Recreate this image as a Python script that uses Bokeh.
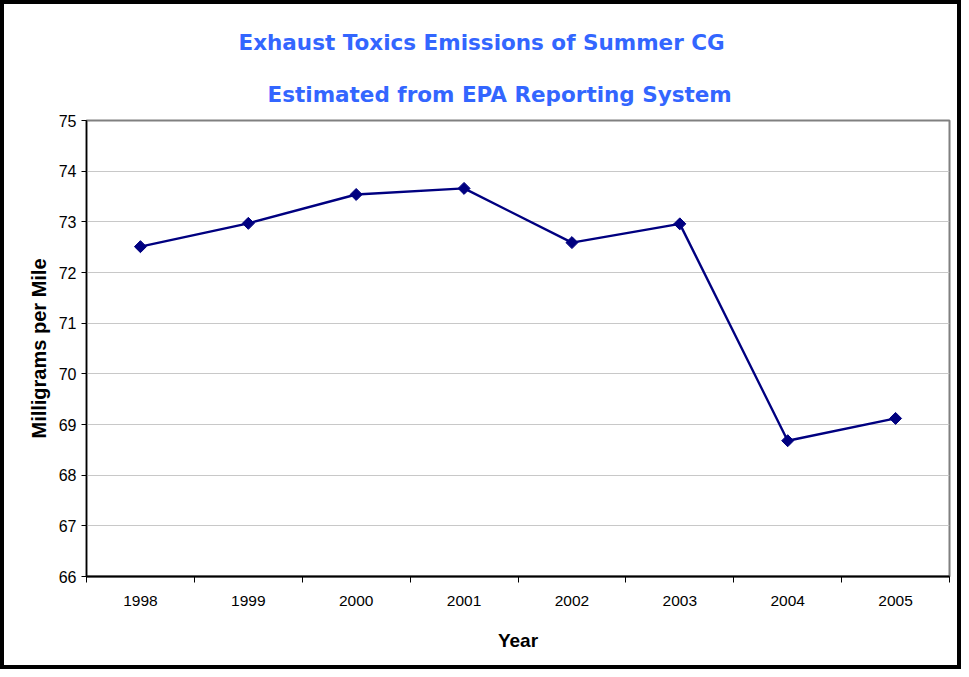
import math
from bokeh.plotting import figure
from bokeh.models import (Range1d, FixedTicker, SingleIntervalTicker, Title,
                          ColumnDataSource)
from bokeh.embed import file_html
from bokeh.resources import INLINE

# ---- data ----
years = ["1998", "1999", "2000", "2001", "2002", "2003", "2004", "2005"]
mg_per_mile = [72.51, 72.97, 73.54, 73.66, 72.59, 72.96, 68.68, 69.12]
y_min, y_max = 66, 75
title_line1 = "Exhaust Toxics Emissions of Summer CG"
title_line2 = "Estimated from EPA Reporting System"
x_label = "Year"
y_label = "Milligrams per Mile"

centers = [i + 0.5 for i in range(len(years))]
bounds = list(range(len(years) + 1))
src = ColumnDataSource(dict(x=centers, y=mg_per_mile, year=years))

p = figure(width=961, height=669, output_backend="svg", toolbar_location=None,
           x_range=Range1d(0, len(years)), y_range=Range1d(y_min, y_max),
           min_border_left=82, min_border_right=16, min_border_top=116,
           min_border_bottom=97)
p.styles = {"border": "4px solid black"}
p.background_fill_color = "white"
p.border_fill_color = "white"
p.outline_line_color = "#808080"
p.outline_line_width = 2

TITLE_COLOR = "#3366FF"
t2 = Title(text=title_line2, align="left", offset=181, standoff=28,
           text_font="DejaVu Sans", text_font_size="21.5px",
           text_font_style="bold", text_color=TITLE_COLOR)
t1 = Title(text=title_line1, align="left", offset=152, standoff=21,
           text_font="DejaVu Sans", text_font_size="21.5px",
           text_font_style="bold", text_color=TITLE_COLOR)
p.add_layout(t2, "above")
p.add_layout(t1, "above")

# grids
p.xgrid.visible = False
p.ygrid.grid_line_color = "#C8C8C8"
p.ygrid.grid_line_width = 1

# y axis
p.yaxis.ticker = SingleIntervalTicker(interval=1, num_minor_ticks=0)
p.yaxis.axis_line_color = "black"
p.yaxis.axis_line_width = 1.5
p.yaxis.major_tick_in = 0
p.yaxis.major_tick_out = 5
p.yaxis.minor_tick_line_color = None
p.yaxis.major_label_standoff = 5
p.yaxis.major_label_text_font = "Liberation Sans"
p.yaxis.major_label_text_font_size = "16px"
p.yaxis.major_label_text_color = "black"
p.yaxis.axis_label = y_label
p.yaxis.axis_label_text_font = "Liberation Sans"
p.yaxis.axis_label_text_font_size = "20px"
p.yaxis.axis_label_text_font_style = "bold"
p.yaxis.axis_label_text_color = "black"
p.yaxis.axis_label_standoff = 6

# x axis
p.xaxis.ticker = FixedTicker(ticks=centers, minor_ticks=bounds)
p.xaxis.major_label_overrides = {c: y for c, y in zip(centers, years)}
p.xaxis.axis_line_color = "black"
p.xaxis.axis_line_width = 2
p.xaxis.major_tick_in = 0
p.xaxis.major_tick_out = 0
p.xaxis.minor_tick_in = 0
p.xaxis.minor_tick_out = 6
p.xaxis.minor_tick_line_color = "black"
p.xaxis.major_label_standoff = 13
p.xaxis.major_label_text_font = "Liberation Sans"
p.xaxis.major_label_text_font_size = "15.5px"
p.xaxis.major_label_text_color = "black"
p.xaxis.axis_label = x_label
p.xaxis.axis_label_text_font = "Liberation Sans"
p.xaxis.axis_label_text_font_size = "19px"
p.xaxis.axis_label_text_font_style = "bold"
p.xaxis.axis_label_text_color = "black"
p.xaxis.axis_label_standoff = 21

NAVY = "#000080"
p.line("x", "y", source=src, line_color=NAVY, line_width=2.4)
p.scatter("x", "y", source=src, marker="square", angle=math.pi / 4, size=8.5,
          fill_color=NAVY, line_color=NAVY)

open("out.html", "w").write(file_html(p, INLINE))
